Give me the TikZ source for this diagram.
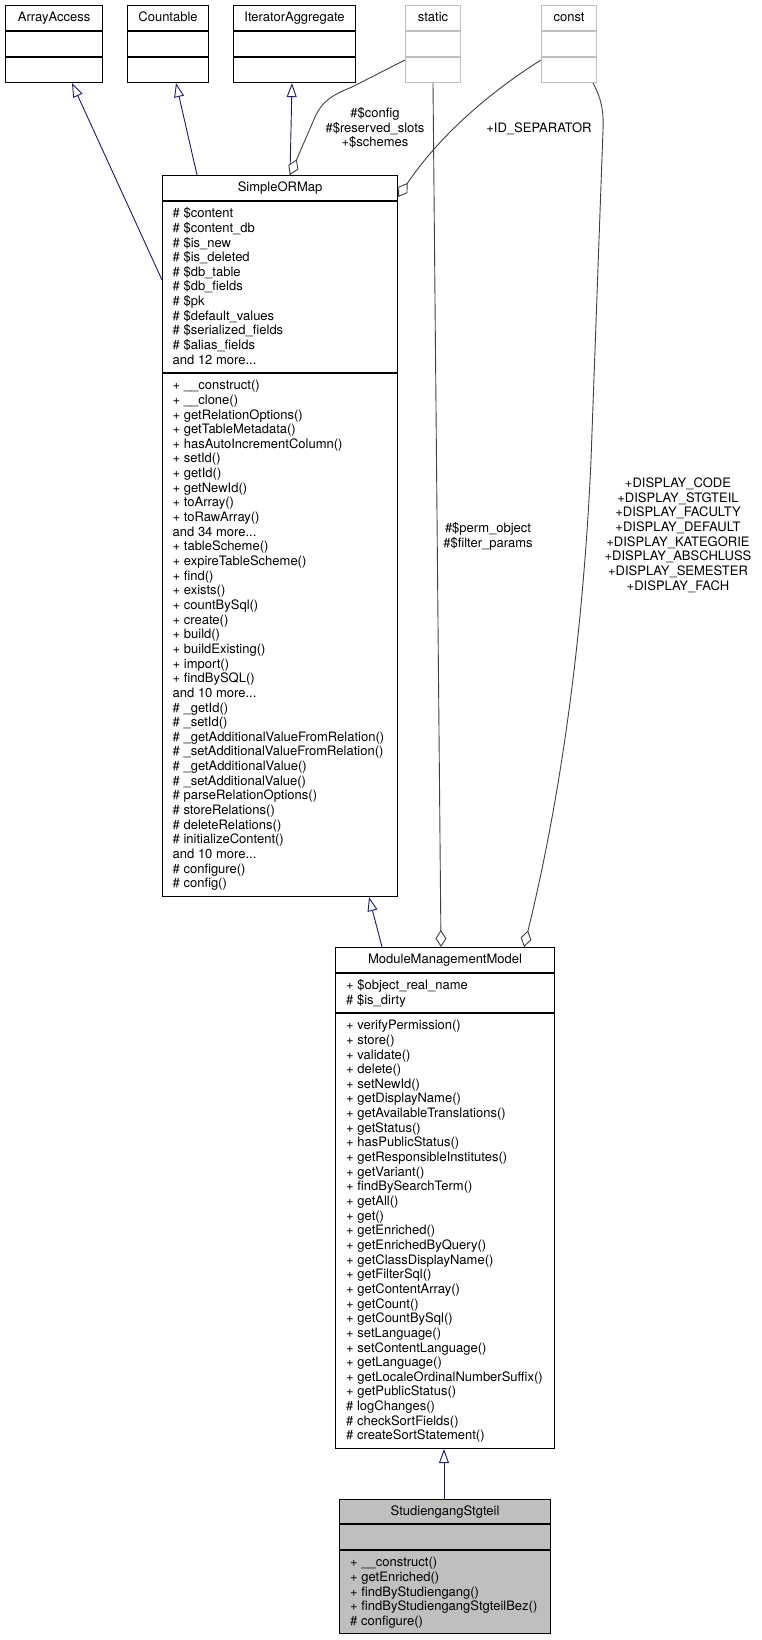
\documentclass[tikz,border=0pt]{standalone}
\usepackage{fontspec}
\setmainfont{TeX Gyre Heros}
\usetikzlibrary{arrows.meta,calc}
\newcommand\umlfont{\fontsize{13}{14.65}\selectfont}
\definecolor{genblue}{HTML}{191970}
\definecolor{aggray}{HTML}{404040}
\definecolor{boxgray}{HTML}{BFBFBF}
\begin{document}
\begin{tikzpicture}[x=1pt,y=-1pt,
  cls/.style={draw=black, line width=1.1pt, fill=white, inner sep=0pt, anchor=north west},
  ghost/.style={cls, draw=boxgray},
  hot/.style={cls, fill=boxgray},
  sepline/.style={draw=black, line width=1.1pt},
  gsepline/.style={draw=boxgray, line width=1.1pt},
  title/.style={font=\umlfont, anchor=base, inner sep=0pt},
  members/.style={font=\umlfont, anchor=north west, align=left, inner sep=0pt},
  lbl/.style={font=\umlfont, anchor=north, align=center, inner sep=0pt},
  gen/.style={draw=genblue, line width=0.9pt, -{Triangle[open, length=14pt, width=10pt, fill=white]}},
  agg/.style={draw=aggray, line width=0.9pt, -{Diamond[open, length=17pt, width=11pt, fill=white]}},
]
\useasboundingbox (0,0) rectangle (761,1640);

% ---- top row ----
\node[cls, minimum width=97pt, minimum height=77pt] (aa) at (5,5) {};
\draw[sepline] ($(aa.north west)+(0,26)$) -- ($(aa.north east)+(0,26)$);
\draw[sepline] ($(aa.north west)+(0,52)$) -- ($(aa.north east)+(0,52)$);
\node[title] (taa) at ($(aa.north)+(0,16.5)$) {ArrayAccess};

\node[cls, minimum width=81pt, minimum height=77pt] (cnt) at (127,5) {};
\draw[sepline] ($(cnt.north west)+(0,26)$) -- ($(cnt.north east)+(0,26)$);
\draw[sepline] ($(cnt.north west)+(0,52)$) -- ($(cnt.north east)+(0,52)$);
\node[title] (tcnt) at ($(cnt.north)+(0,16.5)$) {Countable};

\node[cls, minimum width=122pt, minimum height=77pt] (itag) at (233,5) {};
\draw[sepline] ($(itag.north west)+(0,26)$) -- ($(itag.north east)+(0,26)$);
\draw[sepline] ($(itag.north west)+(0,52)$) -- ($(itag.north east)+(0,52)$);
\node[title] (titag) at ($(itag.north)+(0,16.5)$) {IteratorAggregate};

\node[ghost, minimum width=55pt, minimum height=77pt] (stat) at (405,5) {};
\draw[gsepline] ($(stat.north west)+(0,26)$) -- ($(stat.north east)+(0,26)$);
\draw[gsepline] ($(stat.north west)+(0,52)$) -- ($(stat.north east)+(0,52)$);
\node[title] (tstat) at ($(stat.north)+(0,16.5)$) {static};

\node[ghost, minimum width=55pt, minimum height=77pt] (cnst) at (541,5) {};
\draw[gsepline] ($(cnst.north west)+(0,26)$) -- ($(cnst.north east)+(0,26)$);
\draw[gsepline] ($(cnst.north west)+(0,52)$) -- ($(cnst.north east)+(0,52)$);
\node[title] (tcnst) at ($(cnst.north)+(0,16.5)$) {const};

% ---- SimpleORMap ----
\node[cls, minimum width=235pt, minimum height=721pt] (sorm) at (162,175) {};
\draw[sepline] ($(sorm.north west)+(0,26)$) -- ($(sorm.north east)+(0,26)$);
\draw[sepline] ($(sorm.north west)+(0,198)$) -- ($(sorm.north east)+(0,198)$);
\node[title] (tsorm) at ($(sorm.north)+(0,16.5)$) {SimpleORMap};
\node[members] (asorm) at ($(sorm.north west)+(10.5,32.25)$) {\strut\# \$content\\
\# \$content\_db\\
\# \$is\_new\\
\# \$is\_deleted\\
\# \$db\_table\\
\# \$db\_fields\\
\# \$pk\\
\# \$default\_values\\
\# \$serialized\_fields\\
\# \$alias\_fields\\
and 12 more...};
\node[members] (msorm) at ($(sorm.north west)+(10.5,204.25)$) {\strut+ \_\_construct()\\
+ \_\_clone()\\
+ getRelationOptions()\\
+ getTableMetadata()\\
+ hasAutoIncrementColumn()\\
+ setId()\\
+ getId()\\
+ getNewId()\\
+ toArray()\\
+ toRawArray()\\
and 34 more...\\
+ tableScheme()\\
+ expireTableScheme()\\
+ find()\\
+ exists()\\
+ countBySql()\\
+ create()\\
+ build()\\
+ buildExisting()\\
+ import()\\
+ findBySQL()\\
and 10 more...\\
\# \_getId()\\
\# \_setId()\\
\# \_getAdditionalValueFromRelation()\\
\# \_setAdditionalValueFromRelation()\\
\# \_getAdditionalValue()\\
\# \_setAdditionalValue()\\
\# parseRelationOptions()\\
\# storeRelations()\\
\# deleteRelations()\\
\# initializeContent()\\
and 10 more...\\
\# configure()\\
\# config()};

% ---- ModuleManagementModel ----
\node[cls, minimum width=219pt, minimum height=501pt] (mmm) at (335,947) {};
\draw[sepline] ($(mmm.north west)+(0,26)$) -- ($(mmm.north east)+(0,26)$);
\draw[sepline] ($(mmm.north west)+(0,66)$) -- ($(mmm.north east)+(0,66)$);
\node[title] (tmmm) at ($(mmm.north)+(0,16.5)$) {ModuleManagementModel};
\node[members] (ammm) at ($(mmm.north west)+(11,32.25)$) {\strut+ \$object\_real\_name\\
\# \$is\_dirty};
\node[members] (mmmm) at ($(mmm.north west)+(11,72.25)$) {\strut+ verifyPermission()\\
+ store()\\
+ validate()\\
+ delete()\\
+ setNewId()\\
+ getDisplayName()\\
+ getAvailableTranslations()\\
+ getStatus()\\
+ hasPublicStatus()\\
+ getResponsibleInstitutes()\\
+ getVariant()\\
+ findBySearchTerm()\\
+ getAll()\\
+ get()\\
+ getEnriched()\\
+ getEnrichedByQuery()\\
+ getClassDisplayName()\\
+ getFilterSql()\\
+ getContentArray()\\
+ getCount()\\
+ getCountBySql()\\
+ setLanguage()\\
+ setContentLanguage()\\
+ getLanguage()\\
+ getLocaleOrdinalNumberSuffix()\\
+ getPublicStatus()\\
\# logChanges()\\
\# checkSortFields()\\
\# createSortStatement()};

% ---- StudiengangStgteil ----
\node[hot, minimum width=211pt, minimum height=134pt] (stud) at (339,1499) {};
\draw[sepline] ($(stud.north west)+(0,25)$) -- ($(stud.north east)+(0,25)$);
\draw[sepline] ($(stud.north west)+(0,51)$) -- ($(stud.north east)+(0,51)$);
\node[title] (tstud) at ($(stud.north)+(0,16.5)$) {StudiengangStgteil};
\node[members] (mstud) at ($(stud.north west)+(11,57.25)$) {\strut+ \_\_construct()\\
+ getEnriched()\\
+ findByStudiengang()\\
+ findByStudiengangStgteilBez()\\
\# configure()};

% ---- generalizations ----
\draw[gen] ($(sorm.north west)+(0,105)$) -- ($(aa.south west)+(67,0)$);
\draw[gen] ($(sorm.north west)+(35,0)$) -- ($(cnt.south west)+(49,0)$);
\draw[gen] ($(sorm.north west)+(128,0)$) -- ($(itag.south west)+(59,0)$);
\draw[gen] ($(mmm.north west)+(47,0)$) -- ($(sorm.south west)+(207,0)$);
\draw[gen] ($(stud.north west)+(105,0)$) -- ($(mmm.south west)+(109,0)$);

% ---- aggregations ----
\draw[agg] ($(stat.north west)+(0,55)$) -- (352,87) .. controls (330,96) and (322,102) .. (315,117) -- ($(sorm.north west)+(128,0)$);
\draw[agg] ($(cnst.north west)+(0,55)$) .. controls (490,92) and (440,135) .. ($(sorm.north east)+(0,22)$);
\draw[agg] ($(stat.south west)+(28,0)$) -- ($(mmm.north west)+(106,0)$);
\draw[agg] ($(cnst.south west)+(52,0)$) .. controls (601,97) and (604,112) .. (603,130) -- (591,460) .. controls (583,640) and (560,800) .. ($(mmm.north west)+(189,0)$);

% ---- labels ----
\node[lbl] (l1) at (375,107.2) {\strut\#\$config\\ \#\$reserved\_slots\\ +\$schemes};
\node[lbl] (l2) at (539,121.7) {\strut+ID\_SEPARATOR};
\node[lbl] (l3) at (488,522.4) {\strut\#\$perm\_object\\ \#\$filter\_params};
\node[lbl] (l4) at (678,477.1) {\strut+DISPLAY\_CODE\\ +DISPLAY\_STGTEIL\\ +DISPLAY\_FACULTY\\ +DISPLAY\_DEFAULT\\ +DISPLAY\_KATEGORIE\\ +DISPLAY\_ABSCHLUSS\\ +DISPLAY\_SEMESTER\\ +DISPLAY\_FACH};
\end{tikzpicture}
\end{document}
